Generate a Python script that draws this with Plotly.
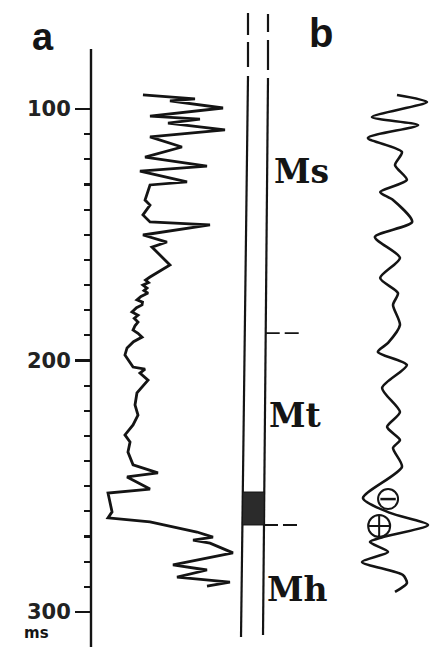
import plotly.graph_objects as go

# ---------------- data ----------------
# Panel a: well log (two-way time in ms, log value in arbitrary units 0-100)
log_time = [94.4, 96.0, 96.8, 99.6, 102.8, 104.0, 105.6, 108.3, 111.1, 115.1, 119.1,
            122.7, 124.7, 129.0, 130.2, 136.2, 138.2, 142.1, 144.9, 146.1, 150.1,
            152.9, 154.9, 162.0, 166.8, 168.0, 169.0, 170.0, 171.2, 172.2, 173.2,
            174.5, 175.9, 176.8, 177.9, 179.0, 180.7, 182.0, 183.2, 184.7, 186.2,
            187.9, 189.2, 190.7, 192.5, 195.0, 197.8, 202.6, 203.4, 205.0, 207.8,
            212.9, 217.7, 221.7, 225.6, 229.6, 232.4, 236.4, 241.5, 244.7, 246.3,
            251.1, 252.7, 260.2, 262.6, 264.2, 268.2, 270.2, 271.4, 272.6, 276.5,
            281.3, 283.3, 286.1, 288.1, 289.7]
log_value = [35.3, 70.0, 53.3, 88.7, 40.0, 73.3, 52.0, 90.0, 40.0, 61.3, 36.7,
             78.0, 33.3, 64.7, 40.0, 36.7, 40.0, 35.3, 40.0, 80.0, 35.3,
             51.3, 41.3, 53.3, 40.0, 37.0, 39.0, 35.3, 38.0, 36.0, 38.7,
             34.0, 31.3, 35.0, 34.7, 31.0, 28.0, 32.0, 29.5, 32.0, 30.0,
             28.7, 32.0, 34.7, 29.0, 24.7, 23.3, 28.7, 36.7, 33.3, 38.7,
             31.3, 30.0, 32.0, 28.7, 23.3, 26.7, 25.3, 28.7, 45.3, 24.7,
             40.0, 12.0, 14.7, 12.0, 40.0, 71.3, 82.0, 68.7, 80.0, 95.3,
             55.3, 78.0, 58.0, 93.3, 78.0]

# Panel b: seismic trace (ms, normalised amplitude)
seis_time = [94.4, 97.2, 103.2, 106.4, 111.5, 117.1, 122.3, 128.2, 133.0, 136.2,
             144.9, 150.9, 159.2, 167.2, 173.2, 177.9, 185.9, 193.0, 196.6, 201.8,
             210.9, 220.5, 226.4, 231.6, 234.8, 242.3, 254.7, 260.6, 265.4, 270.2,
             272.2, 276.1, 280.1, 285.3, 288.5, 292.0]
seis_amp = [0.06, 0.97, -0.70, 0.70, -0.82, 0.21, 0.00, 0.36, -0.45, -0.06,
            0.52, -0.61, 0.15, -0.45, 0.09, -0.06, 0.15, -0.21, -0.52, 0.36,
            -0.39, 0.15, -0.24, 0.15, -0.06, 0.21, -0.97, -0.15, 1.00, -0.36,
            -0.76, -0.21, -1.00, 0.24, 0.36, 0.00]

# polarity markers on the seismic trace
neg_time, neg_amp = [255.1], [-0.21]
pos_time, pos_amp = [265.8], [-0.48]

# stratigraphic column
formation_names = ["Ms", "Mt", "Mh"]
formation_label_time = [124.7, 221.7, 290.9]
boundary_time = [189.1, 265.4]
dark_layer_time = [252.3, 265.4]

# time axis
major_ticks = [100, 200, 300]
major_labels = ["100", "200", "300"]
minor_ticks = [110, 120, 130, 140, 150, 160, 170, 180, 190,
               210, 220, 230, 240, 250, 260, 270, 280, 290]

# ---------------- layout helpers ----------------
W, H = 430, 647
PX_PER_MS = 2.515
Y100 = 109.0


def t_of(py):
    return 100 + (py - Y100) / PX_PER_MS


def px(x):
    return x / W


INK = "#141414"

fig = go.Figure()

fig.add_trace(go.Scatter(x=log_value, y=log_time, mode="lines",
                         line=dict(color=INK, width=2.8), xaxis="x", yaxis="y",
                         hoverinfo="skip"))
fig.add_trace(go.Scatter(x=seis_amp, y=seis_time, mode="lines",
                         line=dict(color=INK, width=2.6, shape="spline", smoothing=0.7),
                         xaxis="x2", yaxis="y", hoverinfo="skip"))
# ⊖
fig.add_trace(go.Scatter(x=neg_amp, y=neg_time, mode="markers",
                         marker=dict(symbol="circle", size=20, color="white",
                                     line=dict(color=INK, width=2)),
                         xaxis="x2", yaxis="y", hoverinfo="skip"))
fig.add_trace(go.Scatter(x=neg_amp, y=neg_time, mode="markers",
                         marker=dict(symbol="line-ew", size=11,
                                     line=dict(color=INK, width=2.5)),
                         xaxis="x2", yaxis="y", hoverinfo="skip"))
# ⊕
fig.add_trace(go.Scatter(x=pos_amp, y=pos_time, mode="markers",
                         marker=dict(symbol="circle-cross-open", size=22, color=INK,
                                     line=dict(color=INK, width=2)),
                         xaxis="x2", yaxis="y", hoverinfo="skip"))

shapes = []
# axis spine of panel a
AX = 91
shapes.append(dict(type="line", xref="paper", yref="y", x0=px(AX), x1=px(AX),
                   y0=t_of(49), y1=t_of(650), line=dict(color=INK, width=2.4)))

# column lines (slightly tilted like the scan)
shapes.append(dict(type="line", xref="paper", yref="y", x0=px(248), x1=px(248),
                   y0=t_of(13), y1=t_of(67), line=dict(color=INK, width=2.2,
                                                       dash="22px,7px,25px,20px")))
shapes.append(dict(type="line", xref="paper", yref="y", x0=px(268), x1=px(268),
                   y0=t_of(14), y1=t_of(70), line=dict(color=INK, width=2.2,
                                                       dash="18px,8px,30px,20px")))
shapes.append(dict(type="line", xref="paper", yref="y", x0=px(248), x1=px(241),
                   y0=t_of(76), y1=t_of(637), line=dict(color=INK, width=2.2)))
shapes.append(dict(type="line", xref="paper", yref="y", x0=px(268), x1=px(263),
                   y0=t_of(78), y1=t_of(635), line=dict(color=INK, width=2.2)))


def col_left(t):
    py = Y100 + (t - 100) * PX_PER_MS
    return 248 - 7 * (py - 76) / 561


def col_right(t):
    py = Y100 + (t - 100) * PX_PER_MS
    return 268 - 5 * (py - 78) / 557


# dark layer
t0, t1 = dark_layer_time
shapes.append(dict(type="path", xref="paper", yref="y",
                   path=f"M {px(col_left(t0))},{t0} L {px(col_right(t0))},{t0} "
                        f"L {px(col_right(t1))},{t1} L {px(col_left(t1))},{t1} Z",
                   fillcolor="#2b2b2b", line=dict(color=INK, width=1)))

# formation boundaries (dashed ticks to the right of column)
for bt in boundary_time:
    xr = col_right(bt)
    shapes.append(dict(type="line", xref="paper", yref="y", x0=px(xr), x1=px(xr + 37),
                       y0=bt, y1=bt, line=dict(color=INK, width=1.8, dash="14px,5px")))

annotations = []
label_x = [272, 267, 265]
for name, lt, lx in zip(formation_names, formation_label_time, label_x):
    annotations.append(dict(text=name, x=px(lx), y=lt, xref="paper", yref="y",
                            xanchor="left", yanchor="middle", showarrow=False,
                            font=dict(family="DejaVu Serif", size=33, color=INK,
                                      weight="bold")))

annotations.append(dict(text="a", x=px(43), y=1 - 37 / H, xref="paper", yref="paper",
                        xanchor="center", yanchor="middle", showarrow=False,
                        font=dict(family="Liberation Sans", size=38, color=INK, weight="bold")))
annotations.append(dict(text="b", x=px(321), y=1 - 33 / H, xref="paper", yref="paper",
                        xanchor="center", yanchor="middle", showarrow=False,
                        font=dict(family="Liberation Sans", size=40, color=INK, weight="bold")))
annotations.append(dict(text="ms", x=px(36), y=t_of(633), xref="paper", yref="y",
                        xanchor="center", yanchor="middle", showarrow=False,
                        font=dict(family="DejaVu Sans", size=15, color=INK, weight="bold")))

fig.update_layout(
    width=W, height=H,
    margin=dict(l=0, r=0, t=0, b=0),
    paper_bgcolor="white", plot_bgcolor="white",
    showlegend=False,
    xaxis=dict(domain=[px(90), px(240)], range=[0, 100], visible=False, anchor="y"),
    xaxis2=dict(domain=[0.8, 1.0], range=[-1.545, 1.06], visible=False, anchor="y"),
    yaxis=dict(
        domain=[0, 1], range=[t_of(H), t_of(0)], anchor="free", position=px(AX),
        side="left", showline=False, showgrid=False, zeroline=False,
        tickmode="array", tickvals=major_ticks, ticktext=major_labels,
        ticks="outside", ticklen=16, tickwidth=2.4, tickcolor=INK,
        tickfont=dict(family="DejaVu Sans", size=21, color="#222", weight="bold"),
        minor=dict(tickmode="array", tickvals=minor_ticks, ticks="outside",
                   ticklen=7, tickwidth=2.2, tickcolor=INK, showgrid=False),
    ),
    shapes=shapes,
    annotations=annotations,
)

fig.write_html("out.html",
               config={"displayModeBar": False, "staticPlot": True},
               post_script="document.body.style.margin='0px';"
                           "document.body.style.overflow='hidden';")
